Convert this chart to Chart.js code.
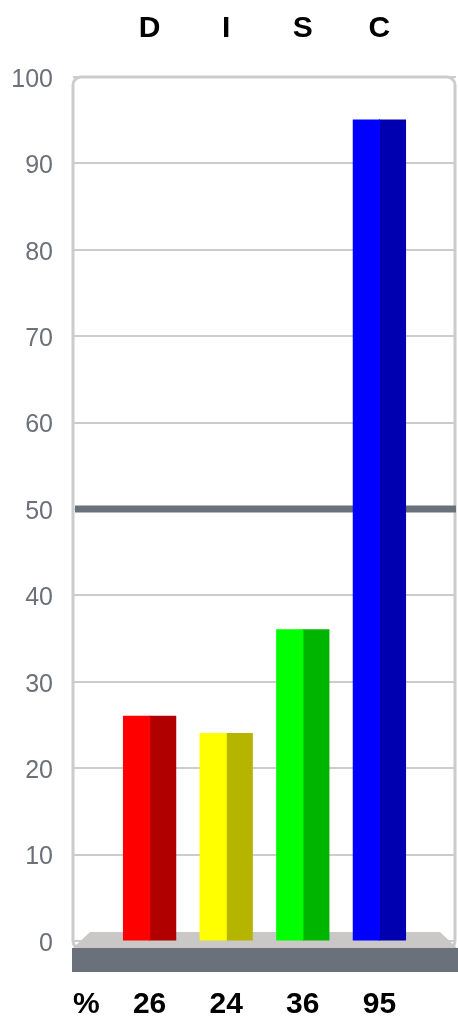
<!DOCTYPE html>
<html lang="en">
<head>
  <meta charset="UTF-8" />
  <title>DISC</title>
  <script src="https://cdn.jsdelivr.net/npm/chart.js"></script>
  <style>
    html, body { margin: 0; padding: 0; background: #fff; }
    #wrap { width: 458px; height: 1020px; }
  </style>
</head>
<body>
  <div id="wrap"><canvas id="discChart"></canvas></div>

  <script>
    // data
    const categories = ['D', 'I', 'S', 'C'];
    const values = [26, 24, 36, 95];
    const lightColors = ['#ff0000', '#ffff00', '#00ff00', '#0000ff'];
    const darkColors = ['#b00000', '#b5b500', '#00b500', '#0000b0'];
    const yTicks = [0, 10, 20, 30, 40, 50, 60, 70, 80, 90, 100];
    const midLine = 50;

    // one empty slot each side so the bars sit where they do in the picture
    const slots = [''].concat(categories, ['']);
    const barData = [null].concat(values, [null]);

    const FONT = "'Liberation Sans', Arial, sans-serif";
    const GREY = '#6b717b';

    const decor = {
      id: 'decor',
      beforeDatasetsDraw(chart) {
        const ctx = chart.ctx;
        const a = chart.chartArea;
        const y = chart.scales.y;
        const y0 = y.getPixelForValue(0);
        ctx.save();
        // frame
        ctx.strokeStyle = '#cccccc';
        ctx.lineWidth = 3;
        ctx.beginPath();
        ctx.roundRect(a.left, a.top, a.right - a.left - 1, a.bottom - a.top + 8, 8);
        ctx.stroke();
        // reference line at 50
        const y50 = y.getPixelForValue(midLine);
        ctx.strokeStyle = GREY;
        ctx.lineWidth = 7;
        ctx.beginPath();
        ctx.moveTo(a.left + 2, y50);
        ctx.lineTo(a.right, y50);
        ctx.stroke();
        // floor
        ctx.fillStyle = '#c9c8c6';
        ctx.beginPath();
        ctx.moveTo(a.left + 17, y0 - 9);
        ctx.lineTo(a.right - 16, y0 - 9);
        ctx.lineTo(a.right + 1, y0 + 7);
        ctx.lineTo(a.left, y0 + 7);
        ctx.closePath();
        ctx.fill();
        ctx.fillStyle = GREY;
        ctx.fillRect(a.left - 1, y0 + 7, chart.width - a.left + 1, 24);
        ctx.restore();
      },
      afterDraw(chart) {
        const ctx = chart.ctx;
        const a = chart.chartArea;
        const bx = chart.scales.x;
        ctx.save();
        ctx.font = 'bold 30px ' + FONT;
        ctx.fillStyle = '#000';
        ctx.textAlign = 'left';
        ctx.textBaseline = 'middle';
        ctx.fillText('%', a.left, bx.top + 49 + 15);
        ctx.restore();
      }
    };

    new Chart(document.getElementById('discChart'), {
      type: 'bar',
      data: {
        labels: slots,
        datasets: [
          {
            data: barData,
            backgroundColor: [null].concat(lightColors, [null]),
            borderWidth: 0,
            inflateAmount: 0.6,
            categoryPercentage: 0.68,
            barPercentage: 1
          },
          {
            data: barData,
            backgroundColor: [null].concat(darkColors, [null]),
            borderWidth: 0,
            inflateAmount: 0.6,
            categoryPercentage: 0.68,
            barPercentage: 1
          }
        ]
      },
      options: {
        responsive: true,
        maintainAspectRatio: false,
        animation: false,
        layout: { padding: { left: 0, right: 2, top: 0, bottom: 0 } },
        plugins: {
          legend: { display: false },
          tooltip: { enabled: false }
        },
        scales: {
          x: {
            position: 'bottom',
            offset: false,
            grid: { display: false, drawTicks: false, offset: false },
            border: { display: false },
            ticks: {
              padding: 49,
              maxRotation: 0,
              autoSkip: false,
              color: '#000',
              font: { family: FONT, size: 30, weight: 'bold', lineHeight: 1 },
              callback: (v, i) => (i >= 1 && i <= values.length ? String(values[i - 1]) : '')
            },
            afterFit: s => { s.height = 79; s.paddingLeft = 0; s.paddingRight = 0; }
          },
          xTop: {
            type: 'category',
            position: 'top',
            labels: slots,
            offset: false,
            grid: { display: false, drawTicks: false, offset: false },
            border: { display: false },
            ticks: {
              padding: 33,
              maxRotation: 0,
              autoSkip: false,
              color: '#000',
              font: { family: FONT, size: 30, weight: 'bold', lineHeight: 1 }
            },
            afterFit: s => { s.height = 77; s.paddingLeft = 0; s.paddingRight = 0; }
          },
          y: {
            min: 0,
            max: 100,
            afterBuildTicks: s => { s.ticks = yTicks.map(v => ({ value: v })); },
            grid: { color: '#cccccc', lineWidth: 2, drawTicks: false },
            border: { display: false },
            ticks: {
              padding: 20,
              labelOffset: 3,
              color: '#6b7079',
              font: { family: FONT, size: 25 }
            },
            afterFit: s => { s.width = 73; s.paddingTop = 0; s.paddingBottom = 0; }
          }
        }
      },
      plugins: [decor]
    });
  </script>
</body>
</html>
